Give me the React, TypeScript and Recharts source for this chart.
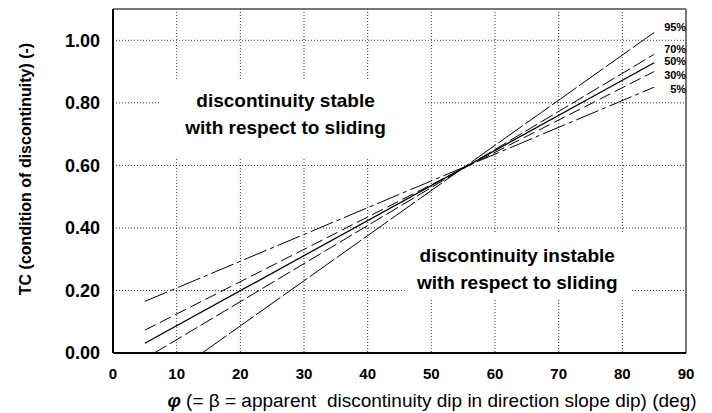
import {
  LineChart,
  Line,
  XAxis,
  YAxis,
  CartesianGrid,
  ReferenceArea,
  ReferenceLine,
} from "recharts";

// percentile lines, start and end points
const dip5 = [5, 85];
const tc5 = [0.165, 0.85];
const dip30 = [5, 85];
const tc30 = [0.073, 0.9];
const dip50 = [5, 85];
const tc50 = [0.031, 0.928];
const dip70 = [6.5, 85];
const tc70 = [0, 0.955];
const dip95 = [14, 85];
const tc95 = [0, 1.025];

const xTicks = [0, 10, 20, 30, 40, 50, 60, 70, 80, 90];
const yTicks = [0, 0.2, 0.4, 0.6, 0.8, 1.0];

const toRows = (xs: number[], ys: number[]) => xs.map((x, i) => ({ dip: x, tc: ys[i] }));

const FONT = "'Liberation Sans', Arial, sans-serif";

const series = [
  { name: "95%", data: toRows(dip95, tc95), dash: "30 3", dy: -5, width: 1 },
  { name: "70%", data: toRows(dip70, tc70), dash: "14 4", dy: -5.5, width: 1 },
  { name: "50%", data: toRows(dip50, tc50), dash: undefined, dy: -1.5, width: 1.3 },
  { name: "30%", data: toRows(dip30, tc30), dash: "12 5", dy: 3, width: 1 },
  { name: "5%", data: toRows(dip5, tc5), dash: "24 4 4 4", dy: 1.5, width: 1 },
];

function Annotation({ viewBox, lines, dx, dy }: any) {
  if (!viewBox) return null;
  const cx = viewBox.x + viewBox.width / 2 + dx;
  const cy = viewBox.y + viewBox.height / 2 + dy;
  return (
    <g>
      {lines.map((t: string, i: number) => (
        <text
          key={i}
          x={cx}
          y={cy + (i - 0.5) * 27}
          textAnchor="middle"
          dominantBaseline="central"
          fontFamily={FONT}
          fontWeight="bold"
          fontSize={19}
          fill="#000"
        >
          {t}
        </text>
      ))}
    </g>
  );
}

export default function App() {
  return (
    <div style={{ position: "absolute", left: 0, top: 0, background: "#fff" }}>
      <LineChart width={712} height={413} margin={{ top: 9, right: 26, bottom: 0, left: 0 }}>
        <CartesianGrid stroke="#333" strokeDasharray="1 2" strokeWidth={1} />
        <XAxis
          type="number"
          dataKey="dip"
          domain={[0, 90]}
          ticks={xTicks}
          height={60}
          tickLine={false}
          axisLine={{ stroke: "#000", strokeWidth: 2 }}
          tick={{ fill: "#000", fontFamily: FONT, fontWeight: "bold", fontSize: 15 }}
          tickMargin={9}
          label={() => (
            <text x={432} y={400} textAnchor="middle" dominantBaseline="central" fontFamily={FONT} fontSize={19} fill="#000">
              <tspan fontStyle="italic" fontWeight="bold">φ</tspan>
              <tspan> (= β = apparent{"\u00A0"} discontinuity dip in direction slope dip) (deg)</tspan>
            </text>
          )}
        />
        <YAxis
          type="number"
          domain={[0, 1.1]}
          ticks={yTicks}
          width={113}
          tickLine={false}
          axisLine={{ stroke: "#000", strokeWidth: 2 }}
          tickFormatter={(v: number) => v.toFixed(2)}
          tick={{ fill: "#000", fontFamily: FONT, fontWeight: "bold", fontSize: 18 }}
          tickMargin={7}
          label={() => (
            <text
              x={25}
              y={169}
              transform="rotate(-90 25 169)"
              textAnchor="middle"
              dominantBaseline="central"
              fontFamily={FONT}
              fontWeight="bold"
              fontSize={16}
              fill="#000"
            >
              TC (condition of discontinuity) (-)
            </text>
          )}
        />
        <ReferenceArea
          x1={7.4}
          x2={49}
          y1={0.623}
          y2={0.875}
          fill="#fff"
          fillOpacity={1}
          stroke="none"
          label={(p: any) => (
            <Annotation viewBox={p.viewBox} dx={-7} dy={-5} lines={["discontinuity stable", "with respect to sliding"]} />
          )}
        />
        <ReferenceArea
          x1={45.8}
          x2={81.5}
          y1={0.176}
          y2={0.383}
          fill="#fff"
          fillOpacity={1}
          stroke="none"
          label={(p: any) => (
            <Annotation viewBox={p.viewBox} dx={-1} dy={3} lines={["discontinuity instable", "with respect to sliding"]} />
          )}
        />
        <ReferenceLine y={1.1} stroke="#777" strokeWidth={2} />
        <ReferenceLine x={90} stroke="#777" strokeWidth={2} />
        {series.map((s) => (
          <Line
            key={s.name}
            data={s.data}
            dataKey="tc"
            type="linear"
            stroke="#000"
            strokeWidth={s.width}
            strokeDasharray={s.dash}
            dot={false}
            activeDot={false}
            isAnimationActive={false}
            label={(p: any) =>
              p.index === s.data.length - 1 ? (
                <text
                  key={s.name}
                  x={p.x + 32}
                  y={p.y + s.dy}
                  textAnchor="end"
                  dominantBaseline="central"
                  fontFamily={FONT}
                  fontWeight="bold"
                  fontSize={11}
                  fill="#000"
                >
                  {s.name}
                </text>
              ) : (
                <g key={`${s.name}-${p.index}`} />
              )
            }
          />
        ))}
      </LineChart>
    </div>
  );
}
